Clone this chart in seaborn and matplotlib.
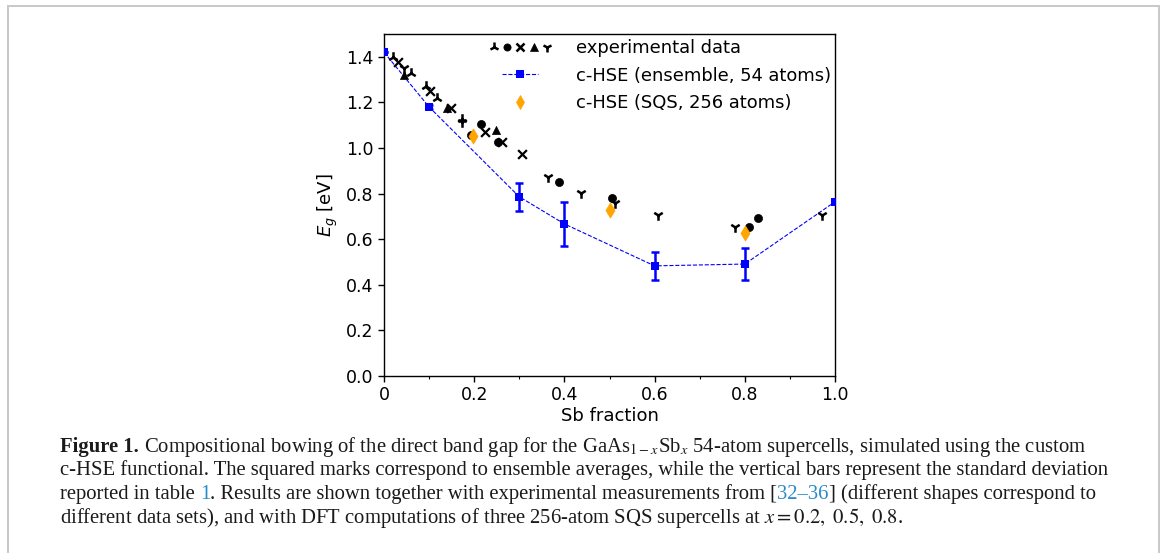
import numpy as np
import pandas as pd
import matplotlib
matplotlib.use("Agg")
import matplotlib.pyplot as plt
import seaborn as sns
from matplotlib.lines import Line2D
from matplotlib.patches import Rectangle

# ---------------- data ----------------
x_ens = [0.0, 0.1, 0.3, 0.4, 0.6, 0.8, 1.0]
y_ens = [1.42, 1.18, 0.786, 0.667, 0.483, 0.491, 0.764]
err_ens = [0.0, 0.01, 0.062, 0.097, 0.061, 0.069, 0.0]

x_sqs = [0.198, 0.50, 0.80]
y_sqs = [1.054, 0.728, 0.629]

# experimental data sets (different marker shapes)
x_exp_a = [0.020, 0.060, 0.094, 0.118, 0.173]          # tri_up
y_exp_a = [1.400, 1.330, 1.270, 1.218, 1.128]
x_exp_b = [0.193, 0.214, 0.253, 0.389, 0.505, 0.809, 0.830]   # circles
y_exp_b = [1.057, 1.106, 1.028, 0.853, 0.779, 0.652, 0.692]
x_exp_c = [0.030, 0.103, 0.148, 0.224, 0.261, 0.305]   # crosses
y_exp_c = [1.378, 1.252, 1.177, 1.072, 1.028, 0.974]
x_exp_d = [0.044, 0.140, 0.248]                        # triangles
y_exp_d = [1.320, 1.177, 1.079]
x_exp_e = [0.044, 0.173, 0.364, 0.437, 0.512, 0.607, 0.778, 0.972]  # tri_down
y_exp_e = [1.350, 1.112, 0.871, 0.801, 0.757, 0.706, 0.652, 0.706]

legend_labels = ["experimental data", "c-HSE (ensemble, 54 atoms)", "c-HSE (SQS, 256 atoms)"]
xtick_vals = [0.0, 0.2, 0.4, 0.6, 0.8, 1.0]
xtick_labels = ["0", "0.2", "0.4", "0.6", "0.8", "1.0"]
ytick_vals = [0.0, 0.2, 0.4, 0.6, 0.8, 1.0, 1.2, 1.4]
ytick_labels = ["0.0", "0.2", "0.4", "0.6", "0.8", "1.0", "1.2", "1.4"]
x_label = "Sb fraction"
y_label = "$E_g$ [eV]"

caption_lines = [
    [("Figure 1.", "bold", "k"), (" ", None, None),
     ("Compositional bowing of the direct band gap for the GaAs$_{1-x}$Sb$_x$ 54-atom supercells, simulated using the custom", "normal", "k")],
    [("c-HSE functional. The squared marks correspond to ensemble averages, while the vertical bars represent the standard deviation", "normal", "k")],
    [("reported in table", "normal", "k"), (" ", None, None), ("1", "normal", "#2a8bc9"),
     (". Results are shown together with experimental measurements from [", "normal", "k"),
     ("32\u201336", "normal", "#2a8bc9"), ("] (different shapes correspond to", "normal", "k")],
    [("different data sets), and with DFT computations of three 256-atom SQS supercells at $x = 0.2,\\ 0.5,\\ 0.8$.", "normal", "k")],
]

# ---------------- style ----------------
sns.set_theme(style="ticks")
plt.rcParams.update({
    "axes.edgecolor": "black", "xtick.color": "black", "ytick.color": "black",
    "text.color": "black", "axes.labelcolor": "black", "axes.linewidth": 1.0,
})
plt.rcParams["font.family"] = ["DejaVu Sans"]

W, H = 1168, 553
fig = plt.figure(figsize=(W / 100, H / 100), dpi=100)
fig.patch.set_facecolor("white")
ax = fig.add_axes([384 / W, 1 - 376 / H, (835 - 384) / W, (376 - 34) / H])
ax.set_facecolor("white")

# ensemble line + error bars
ax.errorbar(x_ens, y_ens, yerr=err_ens, fmt="none", ecolor="blue",
            elinewidth=1.8, capsize=3.2, capthick=1.8, zorder=3)
sns.lineplot(x=x_ens, y=y_ens, ax=ax, color="blue", linestyle="--", linewidth=0.8,
             marker="s", markersize=6.2, markeredgewidth=0, zorder=4)

# experimental
exp_sets = [
    (x_exp_a, y_exp_a, "2"), (x_exp_b, y_exp_b, "o"), (x_exp_c, y_exp_c, "x"),
    (x_exp_d, y_exp_d, "^"), (x_exp_e, y_exp_e, "1"),
]
for xs, ys, m in exp_sets:
    filled = m in ("o", "^")
    if filled:
        sns.scatterplot(x=xs, y=ys, ax=ax, marker=m, color="black", s=34,
                        edgecolor="black", linewidth=0.5, zorder=5)
    elif m == "x":
        sns.scatterplot(x=xs, y=ys, ax=ax, marker=m, color="black", s=40,
                        linewidth=1.6, zorder=5)
    else:
        sns.scatterplot(x=xs, y=ys, ax=ax, marker=m, color="black", s=58,
                        linewidth=1.8, zorder=5)

# SQS
sns.scatterplot(x=x_sqs, y=y_sqs, ax=ax, marker="d", color="orange", s=60,
                edgecolor="orange", linewidth=0.5, zorder=6)

ax.set_xlim(0, 1.0)
ax.set_ylim(0, 1.5)
ax.set_xticks(xtick_vals)
ax.set_xticklabels(xtick_labels)
ax.set_xticks(np.arange(0.1, 1.0, 0.2), minor=True)
ax.set_yticks(ytick_vals)
ax.set_yticklabels(ytick_labels)
ax.tick_params(axis="both", which="major", labelsize=12.5, length=4, width=1, direction="out")
ax.tick_params(axis="x", which="minor", length=2.5, width=0.8, direction="out")
ax.set_xlabel(x_label, fontsize=13, labelpad=2)
ax.set_ylabel(y_label, fontsize=13, labelpad=4)
for s in ax.spines.values():
    s.set_visible(True)
    s.set_color("black")


# legend
class MultiMarkerHandler:
    def __init__(self, markers, spacing):
        self.markers = markers
        self.spacing = spacing

    def legend_artist(self, legend, orig_handle, fontsize, handlebox):
        x0, y0 = handlebox.xdescent, handlebox.ydescent
        cx = handlebox.width / 2 - x0
        cy = handlebox.height / 2 - y0
        n = len(self.markers)
        for i, m in enumerate(self.markers):
            x = cx + (i - (n - 1) / 2) * self.spacing
            filled = m in ("o", "^")
            ln = Line2D([x], [cy], marker=m, color="black", linestyle="none",
                        markersize=5.2 if filled else (6 if m == "x" else 7),
                        markeredgewidth=0.5 if filled else 1.8)
            handlebox.add_artist(ln)
        return ln


class ExpHandle:
    pass


exp_handle = ExpHandle()
ens_handle = Line2D([], [], color="blue", linestyle="--", linewidth=0.8,
                    marker="s", markersize=6.2, markeredgewidth=0)
sqs_handle = Line2D([], [], color="orange", linestyle="none", marker="d",
                    markersize=7.5, markeredgewidth=0.5)
leg = ax.legend([exp_handle, ens_handle, sqs_handle], legend_labels,
                handler_map={ExpHandle: MultiMarkerHandler(["2", "o", "x", "^", "1"], 9.6)},
                loc="upper right", bbox_to_anchor=(1.027, 1.033), frameon=False,
                fontsize=12.9, handlelength=2.0, handletextpad=2.1, labelspacing=0.54)

# border
fig.patches.append(Rectangle((8 / W, -0.1), (1159 - 8) / W, 1 - 6 / H + 0.1,
                             transform=fig.transFigure, fill=False,
                             edgecolor="#c8c8c8", linewidth=1.4, zorder=0))

# caption
fig.canvas.draw()
renderer = fig.canvas.get_renderer()
serif = "Liberation Serif"


def make_text(x_px, base_px, s, fs, weight, color):
    return fig.text(x_px / W, 1 - base_px / H, s, fontsize=fs, fontfamily=serif,
                    fontweight=weight, color=color, ha="left", va="baseline",
                    math_fontfamily="stix")


tmp = make_text(0, 0, caption_lines[1][0][0], 10, "normal", "k")
w10 = tmp.get_window_extent(renderer).width
tmp.remove()
fs = 10 * 1050 / w10
t1 = make_text(0, 0, "ab", fs, "normal", "k")
t2 = make_text(0, 0, "a b", fs, "normal", "k")
space_w = t2.get_window_extent(renderer).width - t1.get_window_extent(renderer).width
t1.remove(); t2.remove()

baselines = [452, 475.5, 499, 522.5]
for line, base in zip(caption_lines, baselines):
    x = 60
    for s, weight, color in line:
        if s == " ":
            x += space_w
            continue
        t = make_text(x, base, s, fs, weight, color)
        x += t.get_window_extent(renderer).width

fig.savefig("out.png", dpi=100, facecolor="white")
